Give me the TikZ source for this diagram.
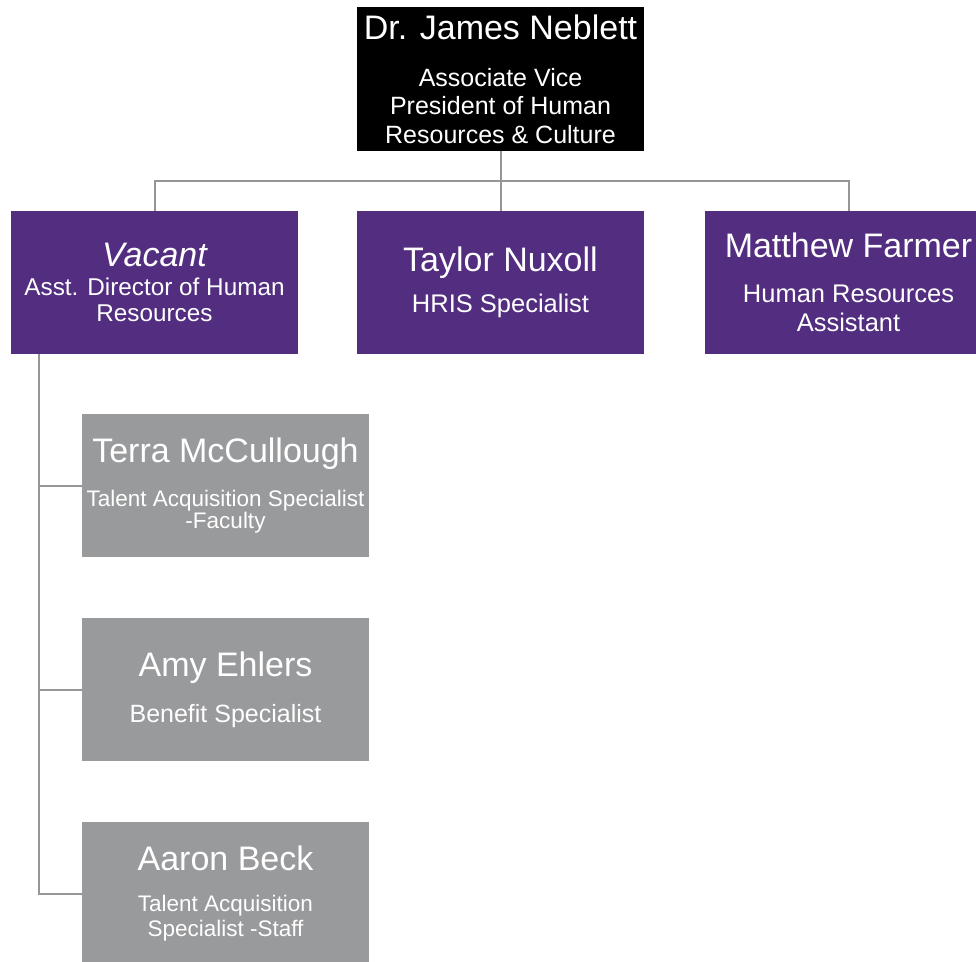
\documentclass[tikz,border=0pt]{standalone}
\usepackage{fontspec}
\setmainfont{Liberation Sans}
\definecolor{hrpurple}{RGB}{82,45,128}
\definecolor{staffgray}{RGB}{153,154,156}
\definecolor{linegray}{RGB}{150,150,150}
\newcommand{\namefont}{\fontsize{34}{36}\selectfont}

\begin{document}
\begin{tikzpicture}[x=1pt,y=-1pt,
  card/.style={rectangle, inner sep=0pt, minimum width=287pt, minimum height=143pt, text=white, align=center},
  headcard/.style={card, fill=black, minimum height=144pt, font=\fontsize{25}{28.5}\selectfont},
  leadcard/.style={card, fill=hrpurple, font=\fontsize{25.5}{28}\selectfont},
  staffcard/.style={card, fill=staffgray, font=\fontsize{22.5}{22}\selectfont},
  link/.style={draw=linegray, line width=2pt}]
\useasboundingbox (0,0) rectangle (976,961);
% top
\node[headcard] (jn) at (500.5,79) {{\namefont Dr. James Neblett}\\[18.5pt]Associate Vice\\President of Human\\Resources \& Culture};
% second row
\node[leadcard, font=\fontsize{24.3}{26}\selectfont] (vac) at (154.5,282.5) {{\namefont\itshape Vacant}\\[3pt]Asst. Director of Human\\Resources};
\node[leadcard] (tn) at (500.5,282.5) {{\namefont Taylor Nuxoll}\\[13pt]HRIS Specialist};
\node[leadcard, font=\fontsize{25.5}{29}\selectfont] (mf) at (848.5,282.5) {{\namefont Matthew Farmer}\\[16pt]Human Resources\\Assistant};
% staff under vacant
\node[staffcard] (tm) at (225.5,485.5) {{\namefont Terra McCullough}\\[20pt]Talent Acquisition Specialist\\-Faculty};
\node[staffcard, font=\fontsize{25}{28}\selectfont] (ae) at (225.5,689.5) {{\namefont Amy Ehlers}\\[18pt]Benefit Specialist};
\node[staffcard, font=\fontsize{22.5}{25}\selectfont] (ab) at (225.5,893.5) {{\namefont Aaron Beck}\\[16pt]Talent Acquisition\\Specialist -Staff};
% lines
\coordinate (bar) at (500.5,181);
\coordinate (spine) at ([xshift=28pt]vac.south west);
\draw[link] (jn.south) -- (tn.north);
\draw[link] (jn.south |- bar) -| (vac.north);
\draw[link] (jn.south |- bar) -| (mf.north);
\draw[link] (spine) |- (ab.west);
\draw[link] (spine |- tm.west) -- (tm.west);
\draw[link] (spine |- ae.west) -- (ae.west);
\end{tikzpicture}
\end{document}
